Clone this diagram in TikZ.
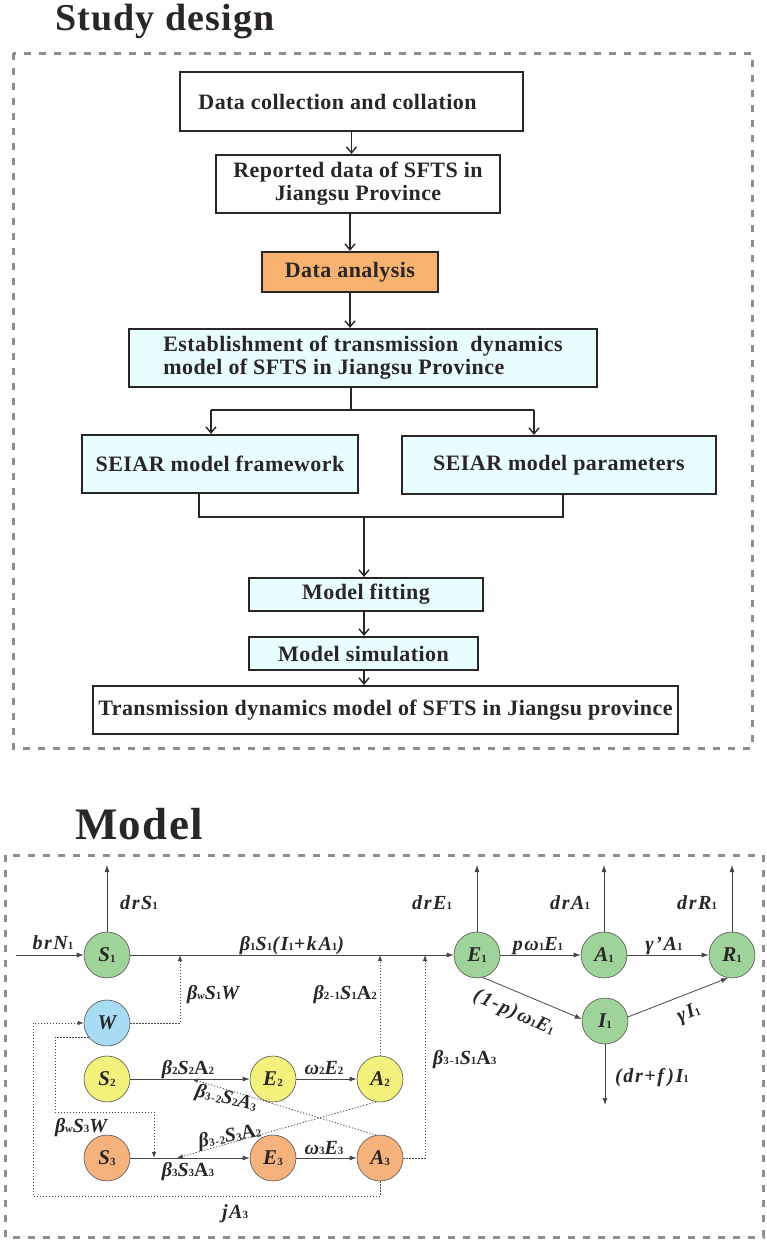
\documentclass[tikz,border=0pt]{standalone}
\usepackage{fontspec}
\setmainfont{Liberation Serif}
\usetikzlibrary{arrows.meta}

\definecolor{ink}{HTML}{2A2526}
\definecolor{framegray}{HTML}{8E8E8E}
\definecolor{boxcyan}{HTML}{E8FDFD}
\definecolor{boxorange}{HTML}{F6B26E}
\definecolor{cgreen}{HTML}{9ED49A}
\definecolor{cblue}{HTML}{A8DCF4}
\definecolor{cyellow}{HTML}{F1F17C}
\definecolor{corange}{HTML}{F6B27C}

\newcommand{\idx}[1]{\raisebox{-0.6pt}{\fontsize{11}{11}\selectfont\upshape #1}}

\begin{document}
\begin{tikzpicture}[x=1pt, y=-1pt,
    every node/.style={text=ink},
    dashframe/.style={draw=framegray, line width=3pt, dash pattern=on 7pt off 8pt},
    heading/.style={font=\fontsize{38}{42}\selectfont\bfseries\addfontfeatures{LetterSpace=3}, anchor=base west, inner sep=0pt},
    procbox/.style={draw=ink, line width=2.2pt, align=center, inner sep=0pt,
        font=\fontsize{22}{23}\selectfont\bfseries\addfontfeatures{LetterSpace=2}},
    arrow/.style={draw=ink, line width=1.6pt, -{Straight Barb[length=6pt, width=10pt, line width=1.4pt]}},
    link/.style={draw=ink, line width=1.6pt},
    comp/.style={circle, draw=ink!80, line width=0.6pt, minimum size=46pt, inner sep=0pt,
        font=\fontsize{21}{22}\selectfont\bfseries\itshape},
    lab/.style={inner sep=0pt, font=\fontsize{20}{22}\selectfont\bfseries\itshape\addfontfeatures{LetterSpace=8}},
    flow/.style={draw=ink!85, line width=0.8pt, -{Latex[length=7pt, width=5pt]}},
    dotlink/.style={draw=ink!85, line width=0.8pt, dash pattern=on 1.2pt off 1.8pt,
        -{Latex[length=6pt, width=4.5pt]}}
]
\useasboundingbox (0,0) rectangle (767,1240);

% study design
\node[heading] (studyTitle) at (55,30) {Study design};
\draw[dashframe] (13,53) rectangle (752,748);

\node[procbox, minimum width=343pt, minimum height=59pt] (collect) at (351.5,101.5) {Data collection and collation\hspace{28pt}};
\node[procbox, minimum width=284pt, minimum height=58pt] (report) at (358,184) {Reported data of SFTS in\\Jiangsu Province};
\node[procbox, fill=boxorange, minimum width=176pt, minimum height=40pt] (analysis) at (350,272) {Data analysis};
\node[procbox, fill=boxcyan, align=left, minimum width=468pt, minimum height=58pt] (establish) at (363,358) {Establishment of transmission\ \ dynamics\\model of SFTS in Jiangsu Province};
\node[procbox, fill=boxcyan, minimum width=276pt, minimum height=58pt] (framework) at (220,464) {SEIAR model framework};
\node[procbox, fill=boxcyan, minimum width=314pt, minimum height=58pt] (params) at (559,465) {SEIAR model parameters};
\node[procbox, fill=boxcyan, minimum width=234pt, minimum height=33pt] (fitting) at (366,594.5) {Model fitting};
\node[procbox, fill=boxcyan, minimum width=229pt, minimum height=33pt] (simulate) at (363.5,653.5) {Model simulation};
\node[procbox, minimum width=585pt, minimum height=48pt] (result) at (385.5,710) {Transmission dynamics model of SFTS in Jiangsu province};

\coordinate (split) at (351,410);
\coordinate (splitL) at (211,410);
\coordinate (splitR) at (534,410);
\coordinate (merge) at (364,517);
\coordinate (mergeL) at (199,517);
\coordinate (mergeR) at (563,517);

\draw[arrow] (collect) -- (collect |- report.north);
\draw[arrow] (report.south -| analysis) -- (analysis);
\draw[arrow] (analysis) -- (analysis |- establish.north);
\draw[link] (establish.south -| split) -- (split);
\draw[link] (splitL) -- (splitR);
\draw[arrow] (splitL) -- (splitL |- framework.north);
\draw[arrow] (splitR) -- (splitR |- params.north);
\draw[link] (mergeL |- framework.south) -- (mergeL) -- (mergeR) -- (mergeR |- params.south);
\draw[arrow] (merge) -- (merge |- fitting.north);
\draw[arrow] (fitting.south -| merge) -- (simulate.north -| merge);
\draw[arrow] (simulate.south -| merge) -- (result.north -| merge);

% model
\node[heading, font=\fontsize{45}{48}\selectfont\bfseries\addfontfeatures{LetterSpace=3}] (modelTitle) at (75,839) {Model};
\draw[dashframe] (5,855) rectangle (763,1237);

\node[comp, fill=cgreen] (S1) at (107,955) {S\idx{1}};
\node[comp, fill=cgreen] (E1) at (477,955) {E\idx{1}};
\node[comp, fill=cgreen] (A1) at (604,955) {A\idx{1}};
\node[comp, fill=cgreen] (R1) at (732,955) {R\idx{1}};
\node[comp, fill=cgreen] (I1) at (605,1021) {I\idx{1}};
\node[comp, fill=cblue] (W) at (107,1023) {W};
\node[comp, fill=cyellow] (S2) at (107,1079) {S\idx{2}};
\node[comp, fill=cyellow] (E2) at (273,1079) {E\idx{2}};
\node[comp, fill=cyellow] (A2) at (380,1079) {A\idx{2}};
\node[comp, fill=corange] (S3) at (107,1158) {S\idx{3}};
\node[comp, fill=corange] (E3) at (273,1158) {E\idx{3}};
\node[comp, fill=corange] (A3) at (380,1158) {A\idx{3}};

\coordinate (birth) at (16,955);
\coordinate (outS1) at (107,865);
\coordinate (outE1) at (477,865);
\coordinate (outA1) at (604,865);
\coordinate (outR1) at (732,865);
\coordinate (outI1) at (605,1105);
\coordinate (hitW) at (180,955);
\coordinate (hitA2) at (380,955);
\coordinate (hitA3) at (425,955);
\coordinate (hitS2) at (192,1079);
\coordinate (hitS3) at (177,1158);
\coordinate (wcol) at (55,1100);
\coordinate (wturn) at (154,1112);
\coordinate (wS3) at (154,1158);
\coordinate (jturn) at (33,1196);

\draw[flow] (birth) -- (S1);
\draw[flow] (S1) -- (outS1);
\draw[flow] (E1) -- (outE1);
\draw[flow] (A1) -- (outA1);
\draw[flow] (R1) -- (outR1);
\draw[flow] (I1) -- (outI1);
\draw[flow] (S1) -- (E1);
\draw[flow] (E1) -- (A1);
\draw[flow] (A1) -- (R1);
\draw[flow] (E1.-75) -- (I1.175);
\draw[flow] (I1.10) -- (R1.-100);
\draw[flow] (S2) -- (E2);
\draw[flow] (E2) -- (A2);
\draw[flow] (S3) -- (E3);
\draw[flow] (E3) -- (A3);

\draw[dotlink] (W) -| (hitW);
\draw[dotlink] (A2) -- (hitA2);
\draw[dotlink] (A3) -| (hitA3);
\draw[dotlink] (A3.100) -- (hitS2);
\draw[dotlink] (A2.-100) -- (hitS3);
\draw[dotlink] (W.-142) -- (W.-142 -| wcol) |- (wturn) -- (wS3);
\draw[dotlink] (A3.south) |- (jturn) |- (W.west);

\node[lab, anchor=base] (lbrN) at (53,949) {brN\idx{1}};
\node[lab, anchor=base west] (ldrS) at (120,909) {drS\idx{1}};
\node[lab, anchor=base] (lmain) at (292,950) {β\idx{1}S\idx{1}(I\idx{1}+kA\idx{1})};
\node[lab, anchor=base west] (lwS1) at (187,999) {β\idx{\itshape w}S\idx{1}W};
\node[lab, anchor=base east] (l21) at (377,999) {β\idx{2-1}S\idx{1}\textup{A}\idx{2}};
\node[lab, anchor=base west] (l31) at (433,1064) {β\idx{3-1}S\idx{1}\textup{A}\idx{3}};
\node[lab, anchor=base west] (ldrE) at (412,909) {drE\idx{1}};
\node[lab, anchor=base west] (ldrA) at (550,909) {drA\idx{1}};
\node[lab, anchor=base west] (ldrR) at (677,909) {drR\idx{1}};
\node[lab, anchor=base] (lpw) at (538,950) {pω\idx{1}E\idx{1}};
\node[lab, anchor=base] (lgA) at (664,950) {γ’A\idx{1}};
\node[lab, rotate=-24] (lqw) at (514,1013) {(1-p)ω\idx{1}E\idx{1}};
\node[lab, rotate=22] (lgI) at (689,1014) {γI\idx{1}};
\node[lab, anchor=base west] (ldf) at (615,1082) {(dr+f\,)I\idx{1}};
\node[lab, anchor=base] (lb2) at (188,1074) {β\idx{2}S\idx{2}\textup{A}\idx{2}};
\node[lab, anchor=base] (lw2) at (324,1074) {ω\idx{2}E\idx{2}};
\node[lab, anchor=base] (lb3) at (188,1176) {β\idx{3}S\idx{3}\textup{A}\idx{3}};
\node[lab, anchor=base] (lw3) at (324,1154) {ω\idx{3}E\idx{3}};
\node[lab, anchor=base west] (lwS3) at (55,1132) {β\idx{\itshape w}S\idx{3}W};
\node[lab, rotate=-13] (l32a) at (226,1099) {β\idx{3-2}S\idx{2}A\idx{3}};
\node[lab, rotate=10] (l32b) at (230,1137) {β\idx{3-2}S\idx{3}\textup{A}\idx{2}};
\node[lab, anchor=base] (ljA) at (235,1218) {jA\idx{3}};

\end{tikzpicture}
\end{document}
